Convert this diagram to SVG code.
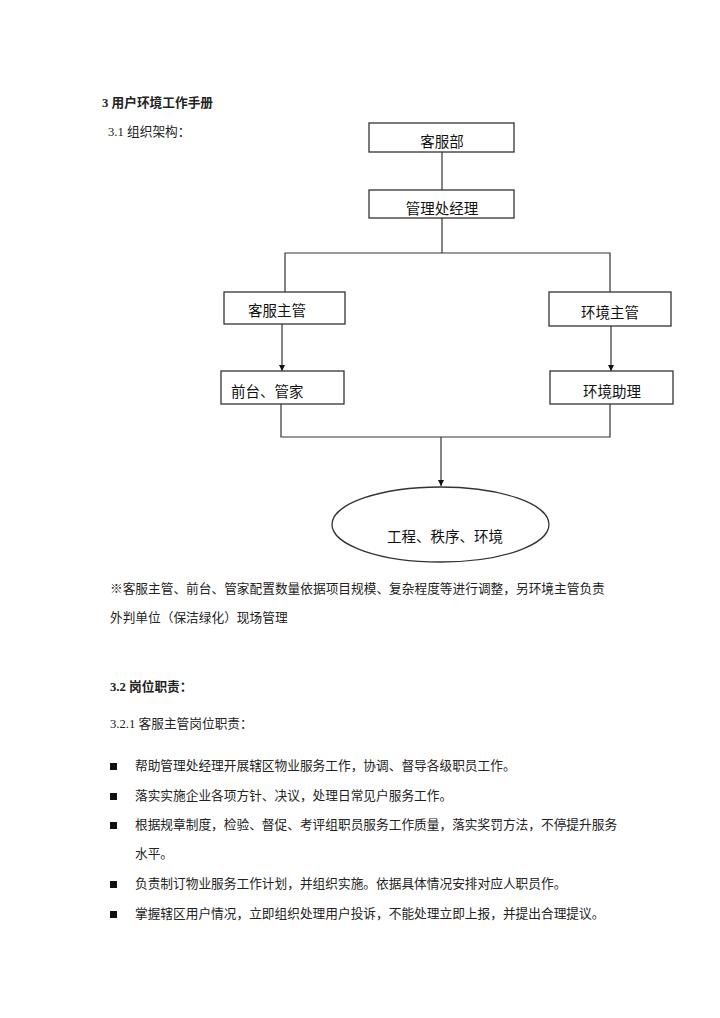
<svg xmlns="http://www.w3.org/2000/svg" width="720" height="1018" viewBox="0 0 720 1018">
<style>
.body{font-family:"Liberation Serif","Noto Sans CJK SC",serif;font-size:12.7px;fill:#222}
.bold{font-weight:bold}
.lbl{font-family:"Liberation Sans","Noto Sans CJK SC",sans-serif;font-size:14.5px;fill:#111}
.box{fill:#fff;stroke:#333;stroke-width:1.3}
.ln{fill:none;stroke:#333;stroke-width:1.2}
</style>
<defs>
<marker id="arr" viewBox="0 0 10 10" refX="10" refY="5" markerWidth="6" markerHeight="7" markerUnits="userSpaceOnUse" orient="auto">
<path d="M0,0 L10,5 L0,10 z" fill="#111"/>
</marker>
</defs>
<rect width="720" height="1018" fill="#fff"/>
<text class="body bold" x="102" y="107">3 用户环境工作手册</text>
<text class="body" x="108" y="136">3.1 组织架构：</text>
<g id="connectors">
<line class="ln" x1="442" y1="152" x2="442" y2="190"/>
<polyline class="ln" points="442,218 442,253"/>
<polyline class="ln" points="285,292 285,253 610,253 610,292"/>
<line class="ln" x1="282" y1="324" x2="282" y2="371" marker-end="url(#arr)"/>
<line class="ln" x1="611" y1="326" x2="611" y2="371" marker-end="url(#arr)"/>
<polyline class="ln" points="281,404 281,437 610,437 610,404"/>
<line class="ln" x1="441" y1="437" x2="441" y2="486" marker-end="url(#arr)"/>
</g>
<g id="n-kefubu">
<rect class="box" x="369" y="123" width="145" height="29"/>
<text class="lbl" x="442" y="147" text-anchor="middle">客服部</text>
</g>
<g id="n-jingli">
<rect class="box" x="369" y="190" width="145" height="28"/>
<text class="lbl" x="442" y="214" text-anchor="middle">管理处经理</text>
</g>
<g id="n-kefuzhuguan">
<rect class="box" x="224" y="292" width="121" height="32"/>
<text class="lbl" x="277" y="316" text-anchor="middle">客服主管</text>
</g>
<g id="n-huanjingzhuguan">
<rect class="box" x="549" y="292" width="122" height="34"/>
<text class="lbl" x="610" y="318" text-anchor="middle">环境主管</text>
</g>
<g id="n-qiantai">
<rect class="box" x="221" y="371" width="123" height="33"/>
<text class="lbl" x="231" y="397">前台、管家</text>
</g>
<g id="n-zhuli">
<rect class="box" x="550" y="371" width="123" height="33"/>
<text class="lbl" x="612" y="397" text-anchor="middle">环境助理</text>
</g>
<g id="n-gongcheng">
<ellipse class="box" cx="440.5" cy="524.5" rx="108.5" ry="37.5"/>
<text class="lbl" x="445" y="542" text-anchor="middle">工程、秩序、环境</text>
</g>
<text class="body" x="110" y="593">※客服主管、前台、管家配置数量依据项目规模、复杂程度等进行调整，另环境主管负责</text>
<text class="body" x="110" y="622">外判单位（保洁绿化）现场管理</text>
<text class="body bold" x="110" y="691">3.2 岗位职责：</text>
<text class="body" x="110" y="728">3.2.1 客服主管岗位职责：</text>
<g class="body">
<rect x="110" y="763" width="7" height="7" fill="#111"/>
<text x="135" y="770">帮助管理处经理开展辖区物业服务工作，协调、督导各级职员工作。</text>
<rect x="110" y="793" width="7" height="7" fill="#111"/>
<text x="135" y="800">落实实施企业各项方针、决议，处理日常见户服务工作。</text>
<rect x="110" y="822" width="7" height="7" fill="#111"/>
<text x="135" y="829">根据规章制度，检验、督促、考评组职员服务工作质量，落实奖罚方法，不停提升服务</text>
<text x="135" y="858">水平。</text>
<rect x="110" y="881" width="7" height="7" fill="#111"/>
<text x="135" y="888">负责制订物业服务工作计划，并组织实施。依据具体情况安排对应人职员作。</text>
<rect x="110" y="911" width="7" height="7" fill="#111"/>
<text x="135" y="918">掌握辖区用户情况，立即组织处理用户投诉，不能处理立即上报，并提出合理提议。</text>
</g>
</svg>
